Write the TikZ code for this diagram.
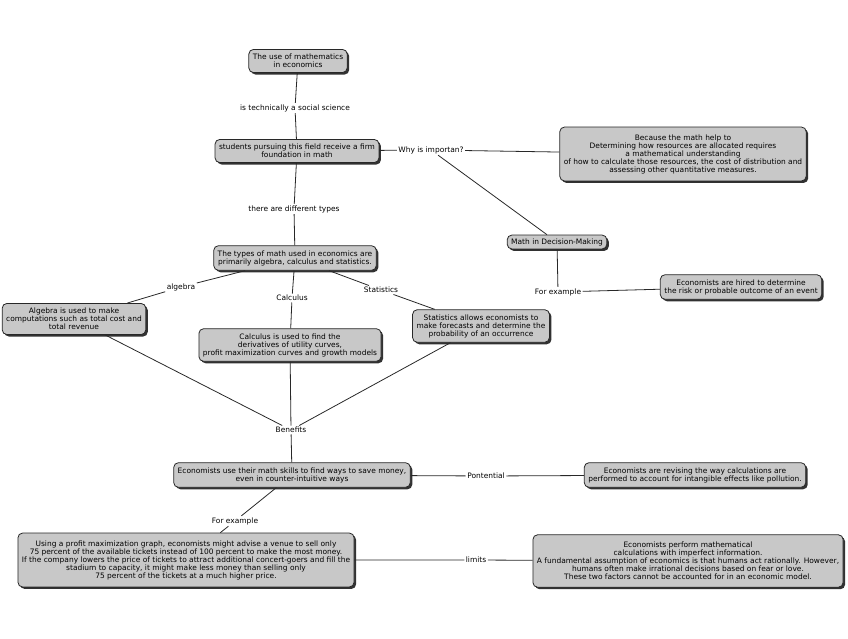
\documentclass[tikz,border=0pt]{standalone}
\usepackage{fontspec}
\setmainfont{DejaVu Sans}
\usetikzlibrary{shadows}

\begin{document}
\begin{tikzpicture}[x=0.75pt,y=0.75pt,yscale=-1,xscale=1,
  concept/.style={draw={rgb, 255:red, 40; green, 40; blue, 40}, fill={rgb, 255:red, 200; green, 200; blue, 200}, line width=0.6pt, rounded corners=3.5pt, align=center, font=\fontsize{5.6}{6}\selectfont, inner xsep=3pt, inner ysep=3.5pt, drop shadow={shadow xshift=1.5pt, shadow yshift=-1.5pt, opacity=1, fill={rgb, 255:red, 50; green, 50; blue, 50}}},
  tall/.style={inner ysep=5.5pt},
  linking/.style={font=\fontsize{5.6}{6}\selectfont, inner sep=1pt},
  link/.style={draw={rgb, 255:red, 40; green, 40; blue, 40}, line width=0.6pt}]
\useasboundingbox (0,0) rectangle (848,638);

%Shape: Rectangle
\node [concept] (usemath) at (298,61) {The use of mathematics\\in economics};
%Shape: Rectangle
\node [concept] (students) at (297,151) {students pursuing this field receive a firm\\foundation in math};
%Shape: Rectangle
\node [concept, tall] (because) at (683,154) {Because the math help to\\Determining how resources are allocated requires\\a mathematical understanding\\of how to calculate those resources, the cost of distribution and\\assessing other quantitative measures.};
%Shape: Rectangle
\node [concept, inner ysep=2.5pt] (decision) at (557,242) {Math in Decision-Making};
%Shape: Rectangle
\node [concept] (hired) at (741,287) {Economists are hired to determine\\the risk or probable outcome of an event};
%Shape: Rectangle
\node [concept] (types) at (295,258) {The types of math used in economics are\\primarily algebra, calculus and statistics.};
%Shape: Rectangle
\node [concept] (algebrabox) at (74,319) {Algebra is used to make\\computations such as total cost and\\total revenue};
%Shape: Rectangle
\node [concept] (calculusbox) at (290,345) {Calculus is used to find the\\derivatives of utility curves,\\profit maximization curves and growth models};
%Shape: Rectangle
\node [concept] (statisticsbox) at (481,326) {Statistics allows economists to\\make forecasts and determine the\\probability of an occurrence};
%Shape: Rectangle
\node [concept] (savemoney) at (292,475) {Economists use their math skills to find ways to save money,\\even in counter-intuitive ways};
%Shape: Rectangle
\node [concept] (revising) at (695,475) {Economists are revising the way calculations are\\performed to account for intangible effects like pollution.};
%Shape: Rectangle
\node [concept, tall] (venue) at (186,560) {Using a profit maximization graph, economists might advise a venue to sell only\\75 percent of the available tickets instead of 100 percent to make the most money.\\If the company lowers the price of tickets to attract additional concert-goers and fill the\\stadium to capacity, it might make less money than selling only\\75 percent of the tickets at a much higher price.};
%Shape: Rectangle
\node [concept, tall] (imperfect) at (688,561) {Economists perform mathematical\\calculations with imperfect information.\\A fundamental assumption of economics is that humans act rationally. However,\\humans often make irrational decisions based on fear or love.\\These two factors cannot be accounted for in an economic model.};

% Text Node
\node [linking] (social) at (295,108) {is technically a social science};
% Text Node
\node [linking] (why) at (431,150) {Why is importan?};
% Text Node
\node [linking] (different) at (294,209) {there are different types};
% Text Node
\node [linking] (forexample1) at (558,292) {For example};
% Text Node
\node [linking] (algebra) at (181,287) {algebra};
% Text Node
\node [linking] (calculus) at (292,298) {Calculus};
% Text Node
\node [linking] (statistics) at (381,290) {Statistics};
% Text Node
\node [linking] (benefits) at (291,430) {Benefits};
% Text Node
\node [linking] (pontential) at (486,476) {Pontential};
% Text Node
\node [linking] (forexample2) at (235,521) {For example};
% Text Node
\node [linking] (limits) at (476,560) {limits};

%Straight Lines
\draw [link] (usemath) -- (social) -- (students);
\draw [link] (students) -- (why) -- (because);
\draw [link] (why) -- (decision);
\draw [link] (students) -- (different) -- (types);
\draw [link] (decision) -- (forexample1) -- (hired);
\draw [link] (types) -- (algebra) -- (algebrabox);
\draw [link] (types) -- (calculus) -- (calculusbox);
\draw [link] (types) -- (statistics) -- (statisticsbox);
\draw [link] (algebrabox) -- (benefits);
\draw [link] (calculusbox) -- (benefits);
\draw [link] (statisticsbox) -- (benefits) -- (savemoney);
\draw [link] (savemoney) -- (pontential) -- (revising);
\draw [link] (savemoney) -- (forexample2) -- (venue);
\draw [link] (venue) -- (limits) -- (imperfect);

\end{tikzpicture}
\end{document}
